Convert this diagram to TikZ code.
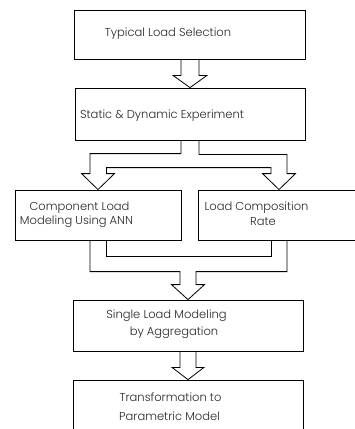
\documentclass[tikz,border=0pt]{standalone}
\usepackage{fontspec}
\setmainfont{Poppins}[UprightFont={* Light}]
\usetikzlibrary{calc}
\begin{document}
\begin{tikzpicture}[x=1pt,y=-1pt,
  stepbox/.style={draw, line width=0.8pt, inner sep=0pt},
  blockarrow/.style={draw, line width=0.8pt, line join=miter},
  lbl/.style={inner sep=0pt, font=\fontsize{11.5}{13}\selectfont, text=black!85}]
\useasboundingbox (0,0) rectangle (355,429);

% process boxes
\node[stepbox, minimum width=231pt, minimum height=49pt] (b1) at (190,34.5) {};
\node[stepbox, minimum width=230pt, minimum height=52pt] (b2) at (190,114) {};
\node[stepbox, minimum width=166pt, minimum height=50pt] (b3) at (98,215) {};
\node[stepbox, minimum width=162pt, minimum height=50pt] (b4) at (279,215) {};
\node[stepbox, minimum width=230pt, minimum height=51pt] (b5) at (188,325.5) {};
\node[stepbox, minimum width=230pt, minimum height=60pt] (b6) at (188,410) {};

% box texts
\node[lbl] (t1) at (168,34) {Typical Load Selection};
\node[lbl] (t2) at (162,116) {Static \& Dynamic Experiment};
\node[lbl] (t3a) at (79.5,208) {Component Load};
\node[lbl] (t3b) at (76.5,222) {Modeling Using ANN};
\node[lbl] (t4a) at (256.5,208) {Load Composition};
\node[lbl] (t4b) at (263,222) {Rate};
\node[lbl] (t5a) at (166.5,316) {Single Load Modeling};
\node[lbl] (t5b) at (174,333) {by Aggregation};
\node[lbl] (t6a) at (170.5,397) {Transformation to};
\node[lbl] (t6b) at (169.5,416) {Parametric Model};

% hollow arrow b1 -> b2
\draw[blockarrow] ($(b1.south)+(-9,0)$) -- ($(b1.south)+(-9,16)$) -- ($(b1.south)+(-17,16)$)
  -- (b2.north) -- ($(b1.south)+(17,16)$) -- ($(b1.south)+(9,16)$) -- ($(b1.south)+(9,0)$);

% forked hollow arrow b2 -> b3, b4
\draw[blockarrow] ($(b2.south)+(-9,0)$) |- ($(b3.north)+(-8,-36)$)
  -- ($(b3.north)+(-8,-16)$) -- ($(b3.north)+(-16.5,-16)$) -- (b3.north)
  -- ($(b3.north)+(16.5,-16)$) -- ($(b3.north)+(8.5,-16)$) -- ($(b3.north)+(8.5,-22)$)
  -| ($(b4.north)+(-8,-16)$) -- ($(b4.north)+(-16.5,-16)$) -- (b4.north)
  -- ($(b4.north)+(16.5,-16)$) -- ($(b4.north)+(8,-16)$)
  |- ($(b2.south)+(9,14)$) -- ($(b2.south)+(9,0)$);

% merging hollow arrow b3, b4 -> b5
\draw[blockarrow] ($(b3.south)+(-8,0)$) |- ($(b5.north)+(-8,-28)$)
  -- ($(b5.north)+(-8,-15)$) -- ($(b5.north)+(-16.5,-15)$) -- (b5.north)
  -- ($(b5.north)+(16.5,-15)$) -- ($(b5.north)+(8,-15)$) -- ($(b5.north)+(8,-28)$)
  -| ($(b4.south)+(8,0)$);
\draw[blockarrow] ($(b3.south)+(8.5,0)$) |- ($(b4.south)+(-8,16)$) -- ($(b4.south)+(-8,0)$);

% hollow arrow b5 -> b6
\draw[blockarrow] ($(b5.south)+(-8,0)$) -- ($(b5.south)+(-8,16)$) -- ($(b5.south)+(-16,16)$)
  -- (b6.north) -- ($(b5.south)+(16,16)$) -- ($(b5.south)+(8,16)$) -- ($(b5.south)+(8,0)$);
\end{tikzpicture}
\end{document}
